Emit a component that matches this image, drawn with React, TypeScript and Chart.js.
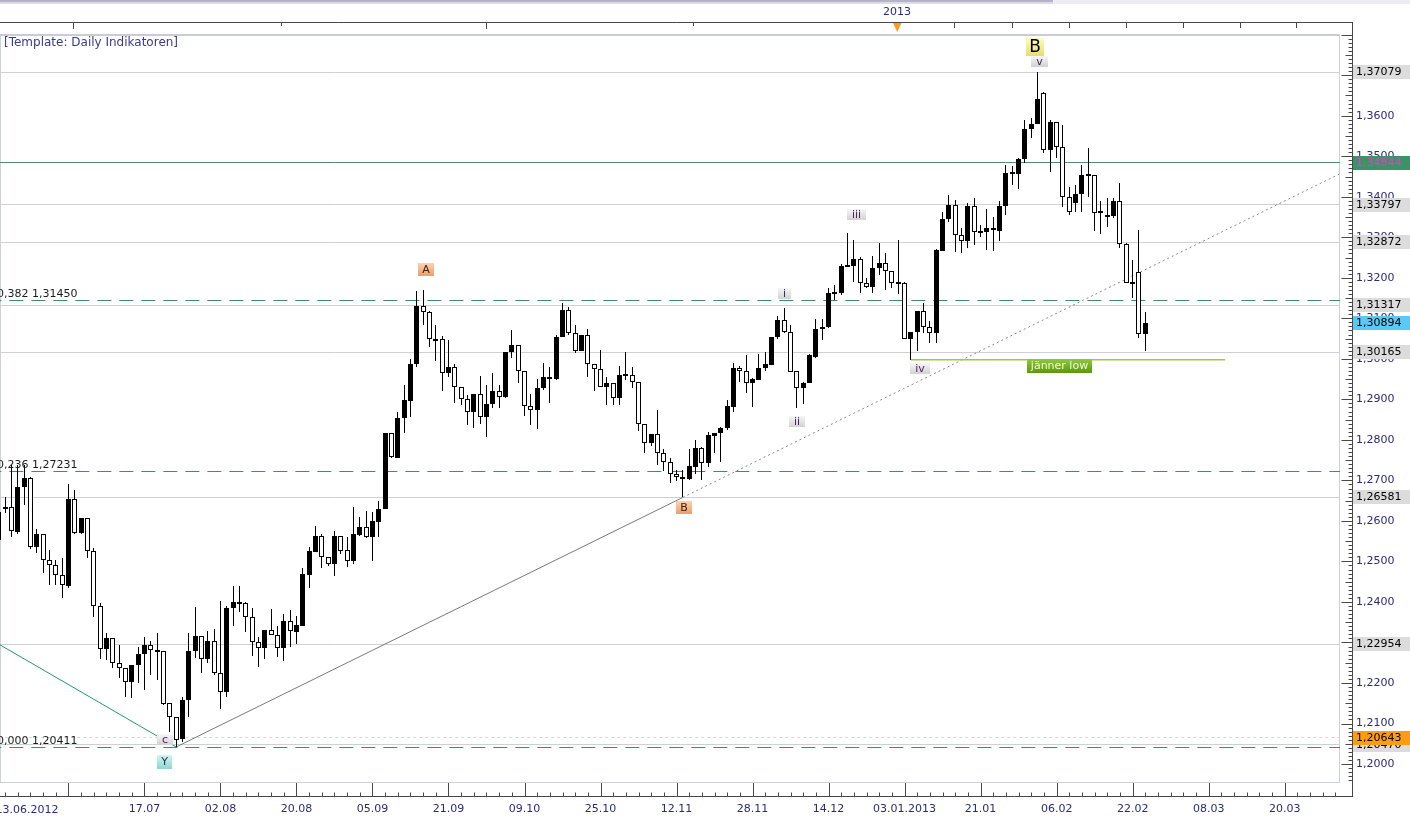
import React, { useEffect, useRef } from 'react';
import { Chart, registerables } from 'chart.js';

Chart.register(...registerables);
Chart.defaults.font.family = '"DejaVu Sans"';

// ---------------- data (EUR/USD daily) ----------------
const OPEN = [
  1.2622, 1.2629, 1.2634, 1.2573, 1.2684, 1.2706, 1.2536, 1.2568, 1.2504, 1.2491,
  1.2467, 1.2440, 1.2654, 1.2571, 1.2607, 1.2526, 1.2390, 1.2284, 1.2311, 1.2249,
  1.2237, 1.2203, 1.2244, 1.2272, 1.2294, 1.2277, 1.2279, 1.2151, 1.2116, 1.2062,
  1.2158, 1.2279, 1.2316, 1.2259, 1.2304, 1.2225, 1.2178, 1.2385, 1.2396, 1.2398,
  1.2363, 1.2301, 1.2286, 1.2331, 1.2318, 1.2286, 1.2353, 1.2326, 1.2341, 1.2467,
  1.2524, 1.2563, 1.2511, 1.2494, 1.2563, 1.2528, 1.2501, 1.2565, 1.2585, 1.2560,
  1.2597, 1.2629, 1.2817, 1.2755, 1.2854, 1.2896, 1.2987, 1.3130, 1.3116, 1.3049,
  1.3049, 1.2965, 1.2980, 1.2931, 1.2901, 1.2869, 1.2913, 1.2856, 1.2889, 1.2921,
  1.2906, 1.3017, 1.3034, 1.2970, 1.2884, 1.2874, 1.2928, 1.2955, 1.2950, 1.3054,
  1.3121, 1.3064, 1.3019, 1.3059, 1.2987, 1.2975, 1.2931, 1.2940, 1.2903, 1.2958,
  1.2960, 1.2943, 1.2839, 1.2792, 1.2814, 1.2767, 1.2745, 1.2715, 1.2708, 1.2703,
  1.2733, 1.2780, 1.2743, 1.2809, 1.2817, 1.2829, 1.2881, 1.2977, 1.2970, 1.2940,
  1.2948, 1.2977, 1.2985, 1.3054, 1.3096, 1.3066, 1.2970, 1.2928, 1.2940, 1.3004,
  1.3074, 1.3079, 1.3160, 1.3163, 1.3226, 1.3229, 1.3246, 1.3187, 1.3177, 1.3224,
  1.3236, 1.3216, 1.3185, 1.3187, 1.3049, 1.3066, 1.3118, 1.3079, 1.3064, 1.3266,
  1.3345, 1.3380, 1.3306, 1.3291, 1.3377, 1.3310, 1.3313, 1.3323, 1.3315, 1.3377,
  1.3456, 1.3456, 1.3493, 1.3567, 1.3579, 1.3656, 1.3515, 1.3585, 1.3523, 1.3399,
  1.3385, 1.3407, 1.3451, 1.3454, 1.3360, 1.3350, 1.3353, 1.3390, 1.3283, 1.3185,
  1.3214, 1.3061,
];
const HIGH = [
  1.2639, 1.2659, 1.2738, 1.2738, 1.2738, 1.2708, 1.2580, 1.2568, 1.2528, 1.2504,
  1.2509, 1.2691, 1.2676, 1.2607, 1.2607, 1.2533, 1.2398, 1.2324, 1.2311, 1.2294,
  1.2237, 1.2244, 1.2289, 1.2314, 1.2304, 1.2324, 1.2279, 1.2151, 1.2116, 1.2166,
  1.2324, 1.2388, 1.2316, 1.2328, 1.2333, 1.2402, 1.2390, 1.2440, 1.2440, 1.2400,
  1.2385, 1.2314, 1.2331, 1.2383, 1.2341, 1.2370, 1.2380, 1.2365, 1.2484, 1.2536,
  1.2587, 1.2568, 1.2511, 1.2575, 1.2563, 1.2560, 1.2634, 1.2610, 1.2624, 1.2622,
  1.2649, 1.2817, 1.2817, 1.2869, 1.2935, 1.2999, 1.3167, 1.3170, 1.3118, 1.3083,
  1.3056, 1.3046, 1.2987, 1.2931, 1.2911, 1.2913, 1.2958, 1.2935, 1.2965, 1.2935,
  1.3017, 1.3071, 1.3034, 1.2970, 1.2913, 1.2950, 1.2989, 1.2980, 1.3059, 1.3138,
  1.3128, 1.3083, 1.3059, 1.3074, 1.2987, 1.3022, 1.2955, 1.2940, 1.2982, 1.3017,
  1.2980, 1.2943, 1.2839, 1.2814, 1.2874, 1.2777, 1.2755, 1.2725, 1.2725, 1.2777,
  1.2799, 1.2782, 1.2819, 1.2817, 1.2832, 1.2898, 1.2989, 1.2982, 1.3009, 1.2953,
  1.3012, 1.3017, 1.3054, 1.3106, 1.3126, 1.3083, 1.2970, 1.2943, 1.3012, 1.3098,
  1.3098, 1.3175, 1.3182, 1.3234, 1.3310, 1.3293, 1.3251, 1.3199, 1.3254, 1.3286,
  1.3261, 1.3216, 1.3293, 1.3189, 1.3066, 1.3118, 1.3138, 1.3093, 1.3271, 1.3362,
  1.3404, 1.3392, 1.3323, 1.3385, 1.3397, 1.3330, 1.3370, 1.3350, 1.3390, 1.3478,
  1.3476, 1.3496, 1.3589, 1.3594, 1.3708, 1.3659, 1.3589, 1.3585, 1.3577, 1.3424,
  1.3429, 1.3478, 1.3520, 1.3454, 1.3390, 1.3397, 1.3397, 1.3434, 1.3286, 1.3244,
  1.3318, 1.3116,
];
const LOW = [
  1.2541, 1.2620, 1.2560, 1.2568, 1.2639, 1.2531, 1.2521, 1.2472, 1.2442, 1.2442,
  1.2410, 1.2435, 1.2568, 1.2568, 1.2509, 1.2363, 1.2259, 1.2256, 1.2237, 1.2212,
  1.2166, 1.2163, 1.2200, 1.2183, 1.2220, 1.2207, 1.2146, 1.2079, 1.2042, 1.2054,
  1.2116, 1.2261, 1.2225, 1.2249, 1.2220, 1.2136, 1.2166, 1.2341, 1.2375, 1.2326,
  1.2267, 1.2240, 1.2259, 1.2318, 1.2264, 1.2254, 1.2289, 1.2296, 1.2341, 1.2435,
  1.2524, 1.2484, 1.2489, 1.2464, 1.2519, 1.2486, 1.2494, 1.2563, 1.2558, 1.2501,
  1.2560, 1.2629, 1.2755, 1.2755, 1.2817, 1.2857, 1.2980, 1.3083, 1.3029, 1.2995,
  1.2921, 1.2955, 1.2891, 1.2886, 1.2837, 1.2829, 1.2839, 1.2807, 1.2879, 1.2879,
  1.2903, 1.3002, 1.2940, 1.2859, 1.2837, 1.2827, 1.2923, 1.2891, 1.2948, 1.3054,
  1.3059, 1.3014, 1.3019, 1.2955, 1.2921, 1.2931, 1.2886, 1.2886, 1.2886, 1.2948,
  1.2928, 1.2822, 1.2767, 1.2785, 1.2738, 1.2724, 1.2693, 1.2698, 1.2658, 1.2700,
  1.2716, 1.2700, 1.2733, 1.2767, 1.2745, 1.2824, 1.2869, 1.2943, 1.2916, 1.2881,
  1.2948, 1.2970, 1.2985, 1.3049, 1.3064, 1.2967, 1.2879, 1.2889, 1.2940, 1.3002,
  1.3046, 1.3076, 1.3145, 1.3158, 1.3226, 1.3190, 1.3163, 1.3175, 1.3163, 1.3207,
  1.3170, 1.3175, 1.3160, 1.3049, 1.2998, 1.3019, 1.3064, 1.3039, 1.3039, 1.3266,
  1.3338, 1.3264, 1.3261, 1.3273, 1.3281, 1.3301, 1.3269, 1.3266, 1.3291, 1.3355,
  1.3429, 1.3419, 1.3483, 1.3545, 1.3579, 1.3508, 1.3461, 1.3496, 1.3375, 1.3355,
  1.3362, 1.3362, 1.3399, 1.3315, 1.3308, 1.3325, 1.3348, 1.3273, 1.3187, 1.3150,
  1.3051, 1.3019,
];
const CLOSE = [
  1.2553, 1.2634, 1.2575, 1.2684, 1.2706, 1.2536, 1.2568, 1.2504, 1.2491, 1.2467,
  1.2442, 1.2654, 1.2571, 1.2607, 1.2526, 1.2390, 1.2284, 1.2311, 1.2249, 1.2237,
  1.2203, 1.2244, 1.2272, 1.2294, 1.2282, 1.2282, 1.2148, 1.2116, 1.2059, 1.2158,
  1.2279, 1.2316, 1.2259, 1.2304, 1.2225, 1.2178, 1.2385, 1.2400, 1.2400, 1.2363,
  1.2301, 1.2286, 1.2331, 1.2318, 1.2286, 1.2353, 1.2328, 1.2343, 1.2469, 1.2526,
  1.2563, 1.2511, 1.2494, 1.2563, 1.2526, 1.2501, 1.2568, 1.2585, 1.2560, 1.2600,
  1.2629, 1.2817, 1.2758, 1.2854, 1.2898, 1.2987, 1.3130, 1.3116, 1.3049, 1.3044,
  1.2965, 1.2980, 1.2931, 1.2901, 1.2869, 1.2913, 1.2856, 1.2889, 1.2921, 1.2906,
  1.3017, 1.3034, 1.2970, 1.2884, 1.2874, 1.2928, 1.2955, 1.2950, 1.3054, 1.3121,
  1.3064, 1.3019, 1.3059, 1.2987, 1.2975, 1.2931, 1.2940, 1.2903, 1.2960, 1.2960,
  1.2943, 1.2839, 1.2792, 1.2814, 1.2767, 1.2745, 1.2715, 1.2708, 1.2703, 1.2735,
  1.2780, 1.2743, 1.2812, 1.2817, 1.2829, 1.2884, 1.2977, 1.2970, 1.2940, 1.2950,
  1.2977, 1.2987, 1.3054, 1.3096, 1.3066, 1.2967, 1.2928, 1.2940, 1.3009, 1.3074,
  1.3079, 1.3163, 1.3163, 1.3229, 1.3229, 1.3246, 1.3187, 1.3177, 1.3224, 1.3237,
  1.3217, 1.3187, 1.3187, 1.3049, 1.3066, 1.3118, 1.3079, 1.3064, 1.3269, 1.3345,
  1.3380, 1.3306, 1.3291, 1.3377, 1.3313, 1.3313, 1.3323, 1.3318, 1.3377, 1.3459,
  1.3459, 1.3493, 1.3567, 1.3580, 1.3641, 1.3515, 1.3585, 1.3523, 1.3399, 1.3362,
  1.3407, 1.3454, 1.3454, 1.3360, 1.3362, 1.3353, 1.3390, 1.3283, 1.3187, 1.3187,
  1.3061, 1.3089,
];

// x axis: index of trading day, labels every 12 sessions
const X_TICK_INDEX = [23, 35, 47, 59, 71, 83, 95, 107, 119, 131, 143, 155, 167, 179, 191, 203];
const X_TICK_LABELS = ['17.07', '02.08', '20.08', '05.09', '21.09', '09.10', '25.10', '12.11', '28.11', '14.12', '03.01.2013', '21.01', '06.02', '22.02', '08.03', '20.03'];
const FIRST_DATE_LABEL = '13.06.2012';
const Y_TICK_VALUES = [1.20, 1.21, 1.22, 1.23, 1.24, 1.25, 1.26, 1.27, 1.28, 1.29, 1.30, 1.31, 1.32, 1.33, 1.34, 1.35, 1.36, 1.37];

// horizontal levels
const GREY_LEVELS = [1.37079, 1.33797, 1.32872, 1.31317, 1.30165, 1.26581, 1.22954, 1.20470];
const GREY_DASHED_LEVEL = 1.20643;
const GREEN_LEVEL = 1.34844;
const FIB_NAMES = ['0,382', '0,236', '0,000'];
const FIB_LEVELS = [1.31450, 1.27231, 1.20411];
const LAST_PRICE = 1.30894;
const JANNER_LOW = 1.2998;
const JANNER_FROM_TO = [144, 193.6];

// price axis tags
const TAG_VALUES = [1.37079, 1.33797, 1.32872, 1.31317, 1.30165, 1.26581, 1.22954, 1.20470, GREEN_LEVEL, LAST_PRICE, 1.20643];
const TAG_KINDS = ['grey', 'grey', 'grey', 'grey', 'grey', 'grey', 'grey', 'grey', 'green', 'blue', 'orange'];

// trend lines (session index, price)
const TREND_IDX = [28, 108];
const TREND_PRICE = [1.2042, 1.2658];
const TREND_EXT_IDX = [108, 212];
const TREND_EXT_PRICE = [1.2658, 1.3459];
const GREEN_LINE_IDX = [0, 28];
const GREEN_LINE_PRICE = [1.2296, 1.2042];

// wave labels
const WAVE_TEXT = ['A', 'B', 'Y', 'c', 'i', 'ii', 'iii', 'iv', 'v', 'B', 'jänner low'];
const WAVE_IDX = [67.5, 108.2, 26.2, 26.2, 124.1, 126.0, 135.5, 145.4, 164.4, 163.6, 167.5];
const WAVE_PRICE = [1.3219, 1.2631, 1.2005, 1.2059, 1.3160, 1.2844, 1.3355, 1.2975, 1.3733, 1.3770, 1.2982];
const WAVE_KIND = ['orange', 'orange', 'teal', 'grey', 'grey', 'grey', 'grey', 'grey', 'grey', 'yellow', 'green'];

// ---------------- geometry of the axes ----------------
const X_MIN = 0.205;
const X_MAX = 211.73;
const Y_MIN = 1.19532;
const Y_MAX = 1.38017;

const F = (s: number) => `${s}px "DejaVu Sans"`;
const fmt = (v: number, d: number) => v.toFixed(d).replace('.', ',');

const TAG_STYLE: Record<string, { bg: string; fg: string }> = {
  grey: { bg: '#dcdcdc', fg: '#000000' },
  green: { bg: '#3a9468', fg: '#ff2fd2' },
  blue: { bg: '#5cc8f4', fg: '#000000' },
  orange: { bg: '#ff9c12', fg: '#000000' },
};
const WAVE_STYLE: Record<string, { c1: string; c2: string; fg: string; size: number; h: number; pad: number }> = {
  orange: { c1: '#fcd2b0', c2: '#eb9e6a', fg: '#3a2414', size: 11, h: 13, pad: 4 },
  teal: { c1: '#d2f4f0', c2: '#8fd6ce', fg: '#13303a', size: 11, h: 14, pad: 4 },
  grey: { c1: '#f6f6f6', c2: '#d2d2d2', fg: '#4a1f5e', size: 11, h: 11, pad: 5 },
  yellow: { c1: '#fdfdc0', c2: '#e6de6a', fg: '#000000', size: 17, h: 18, pad: 3 },
  green: { c1: '#8fc840', c2: '#5a9a08', fg: '#f6f6e4', size: 11, h: 14, pad: 4 },
};

const decorPlugin = {
  id: 'decor',
  beforeDraw(chart: any) {
    const { ctx, chartArea: a, width, height } = chart;
    ctx.save();
    ctx.fillStyle = '#ffffff';
    ctx.fillRect(0, 0, width, height);
    ctx.fillStyle = '#ececf1';
    ctx.fillRect(1053, 0, width - 1053, 4);
    ctx.fillStyle = '#b4b4c6';
    ctx.fillRect(0, 0, 1053, 2);
    ctx.fillStyle = '#dcdce6';
    ctx.fillRect(0, 2, 1053, 2);
    ctx.strokeStyle = '#cdd1dc';
    ctx.lineWidth = 1;
    ctx.strokeRect(a.left + 0.5, a.top + 0.5, a.right - a.left - 1, a.bottom - a.top - 1);
    ctx.fillStyle = '#c8ccd8';
    ctx.fillRect(a.left, a.top, a.right - a.left, 2);
    ctx.restore();
  },
  beforeDatasetsDraw(chart: any) {
    // snap candles and horizontal levels to the pixel grid for crisp rendering
    chart.data.datasets.forEach((ds: any, i: number) => {
      const meta = chart.getDatasetMeta(i);
      if (ds.type === 'bar') {
        meta.data.forEach((el: any) => {
          el.x = Math.floor(el.x) + 0.5;
          el.y = Math.round(el.y);
          el.base = Math.round(el.base);
        });
      } else if (ds.snapY) {
        meta.data.forEach((el: any) => {
          el.y = Math.round(el.y - 0.5) + 0.5;
        });
      }
    });
  },
  afterDraw(chart: any) {
    const { ctx, chartArea: a } = chart;
    const xs = chart.scales.x;
    const ys = chart.scales.y;
    const X = (v: number) => xs.getPixelForValue(v);
    const Y = (v: number) => ys.getPixelForValue(v);
    const axisX = a.right + 12.5;
    const baseY = a.bottom + 13.5;
    ctx.save();

    // fibonacci level captions
    ctx.font = F(11);
    ctx.fillStyle = '#1c1c1c';
    ctx.textAlign = 'left';
    ctx.textBaseline = 'alphabetic';
    FIB_LEVELS.forEach((v, k) => {
      ctx.fillText(`${FIB_NAMES[k]} ${fmt(v, 5)}`, -3, Math.round(Y(v)) - 3);
    });

    // axis lines
    ctx.strokeStyle = '#484848';
    ctx.lineWidth = 1;
    ctx.beginPath();
    ctx.moveTo(0, 22.5);
    ctx.lineTo(axisX, 22.5);
    ctx.moveTo(axisX, 22);
    ctx.lineTo(axisX, baseY + 0.5);
    ctx.moveTo(0, baseY);
    ctx.lineTo(axisX, baseY);
    for (let k = Math.ceil(Y_MIN * 1000); k <= Math.floor(Y_MAX * 1000); k++) {
      const y = Math.round(Y(k / 1000)) + 0.5;
      const len = k % 10 === 0 ? 11 : k % 5 === 0 ? 7 : 4;
      ctx.moveTo(axisX - len, y);
      ctx.lineTo(axisX, y);
    }
    for (let k = -1; X(k) <= a.right; k += 2) {
      const x = Math.round(X(k)) + 0.5;
      const major = (k + 1) % 12 === 0;
      ctx.moveTo(x, major ? a.bottom : baseY - 4);
      ctx.lineTo(x, baseY);
    }
    [73, 486, 897].forEach((x) => { ctx.moveTo(x + 0.5, 22); ctx.lineTo(x + 0.5, 29); });
    [954, 1012, 1069, 1126, 1183, 1240, 1296].forEach((x) => { ctx.moveTo(x + 0.5, 22); ctx.lineTo(x + 0.5, 28); });
    [281, 693].forEach((x) => { ctx.moveTo(x + 0.5, 22); ctx.lineTo(x + 0.5, 26); });
    ctx.stroke();

    // 2013 marker
    ctx.fillStyle = '#2b2b7a';
    ctx.font = F(11);
    ctx.textAlign = 'center';
    ctx.textBaseline = 'middle';
    ctx.fillText('2013', 897, 12);
    ctx.fillStyle = '#f4a021';
    ctx.beginPath();
    ctx.moveTo(893, 23);
    ctx.lineTo(901.5, 23);
    ctx.lineTo(897.2, 32);
    ctx.closePath();
    ctx.fill();

    // first date label (pinned at left)
    ctx.fillStyle = '#2b2b7a';
    ctx.fillText(FIRST_DATE_LABEL, 27, a.bottom + 27);

    // title
    ctx.textAlign = 'left';
    ctx.fillStyle = '#3a3a8c';
    ctx.font = F(12);
    ctx.fillText('[Template: Daily Indikatoren]', 4, 43);

    // price tags on the axis
    ctx.font = F(11);
    TAG_VALUES.forEach((v, k) => {
      const st = TAG_STYLE[TAG_KINDS[k]];
      const y = Math.round(Y(v));
      ctx.fillStyle = st.bg;
      ctx.fillRect(axisX + 0.5, y - 7, chart.width - axisX, 14);
      ctx.fillStyle = st.fg;
      ctx.textAlign = 'left';
      ctx.textBaseline = 'middle';
      ctx.fillText(fmt(v, 5), axisX + 3.5, y + 0.5);
    });

    // wave labels
    WAVE_TEXT.forEach((t, k) => {
      const st = WAVE_STYLE[WAVE_KIND[k]];
      ctx.font = F(st.size);
      const w = Math.round(ctx.measureText(t).width + st.pad * 2);
      const cx = Math.round(X(WAVE_IDX[k]));
      const cy = Math.round(Y(WAVE_PRICE[k]));
      const x0 = cx - Math.round(w / 2);
      const y0 = cy - Math.round(st.h / 2);
      const g = ctx.createLinearGradient(0, y0, 0, y0 + st.h);
      g.addColorStop(0, st.c1);
      g.addColorStop(1, st.c2);
      ctx.fillStyle = g;
      ctx.fillRect(x0, y0, w, st.h);
      ctx.fillStyle = st.fg;
      ctx.textAlign = 'center';
      ctx.textBaseline = 'middle';
      ctx.fillText(t, x0 + w / 2, y0 + st.h / 2 + 0.5);
    });
    ctx.restore();
  },
};

const lineDs = (xsv: number[], ysv: number[], color: string, width: number, dash: number[], order = 5, snapY = false) => ({
  type: 'line' as const,
  data: xsv.map((x, i) => ({ x, y: ysv[i] })),
  borderColor: color,
  borderWidth: width,
  borderDash: dash,
  pointRadius: 0,
  fill: false,
  tension: 0,
  order,
  snapY,
});

export default function App() {
  const ref = useRef<HTMLCanvasElement>(null);

  useEffect(() => {
    const idx = OPEN.map((_, i) => i);
    const wickData = idx.map((i) => ({ x: i, y: [LOW[i], HIGH[i]] }));
    const bodyData = idx.map((i) => ({ x: i, y: [Math.min(OPEN[i], CLOSE[i]), Math.max(OPEN[i], CLOSE[i])] }));
    const bodyFill = idx.map((i) => (CLOSE[i] >= OPEN[i] ? '#000000' : '#ffffff'));
    const span = [X_MIN - 2, X_MAX + 2];

    const datasets: any[] = [
      {
        type: 'bar',
        data: bodyData,
        backgroundColor: bodyFill,
        borderColor: '#000000',
        borderWidth: 1,
        borderSkipped: false,
        barThickness: 5,
        minBarLength: 2,
        grouped: false,
        inflateAmount: 0,
        order: 0,
      },
      {
        type: 'bar',
        data: wickData,
        backgroundColor: '#000000',
        borderWidth: 0,
        barThickness: 1,
        grouped: false,
        inflateAmount: 0,
        order: 1,
      },
      ...GREY_LEVELS.map((v) => lineDs(span, [v, v], '#d0d0d0', 1, [], 5, true)),
      lineDs(span, [GREY_DASHED_LEVEL, GREY_DASHED_LEVEL], '#d4d4d4', 1, [3, 3], 5, true),
      lineDs(span, [GREEN_LEVEL, GREEN_LEVEL], '#4f8c6f', 1, [], 5, true),
      ...FIB_LEVELS.map((v) => lineDs(span, [v, v], '#3f8c6a', 1, [14, 8], 5, true)),
      lineDs(JANNER_FROM_TO, [JANNER_LOW, JANNER_LOW], '#a4c83a', 1.5, [], 4),
      lineDs(GREEN_LINE_IDX, GREEN_LINE_PRICE, '#23996e', 1, [], 4),
      lineDs(TREND_IDX, TREND_PRICE, '#7a7a7a', 1, [], 4),
      lineDs(TREND_EXT_IDX, TREND_EXT_PRICE, '#8a8a8a', 1, [2, 3], 4),
    ];

    const chart = new Chart(ref.current as HTMLCanvasElement, {
      type: 'bar',
      data: { datasets },
      options: {
        animation: false,
        responsive: false,
        devicePixelRatio: 1,
        events: [],
        layout: { padding: { top: 34, left: 0, right: 0, bottom: 0 } },
        plugins: { legend: { display: false }, tooltip: { enabled: false } },
        scales: {
          x: {
            type: 'linear',
            min: X_MIN,
            max: X_MAX,
            offset: false,
            grid: { display: false, drawTicks: false },
            border: { display: false },
            afterBuildTicks: (s: any) => {
              s.ticks = X_TICK_INDEX.map((v) => ({ value: v }));
            },
            afterFit: (s: any) => {
              s.height = 37;
            },
            ticks: {
              autoSkip: false,
              maxRotation: 0,
              minRotation: 0,
              padding: 20,
              color: '#2b2b7a',
              font: { family: '"DejaVu Sans"', size: 11 },
              callback: (v: any) => {
                const k = X_TICK_INDEX.indexOf(Number(v));
                return k >= 0 ? X_TICK_LABELS[k] : '';
              },
            },
          },
          y: {
            type: 'linear',
            position: 'right',
            min: Y_MIN,
            max: Y_MAX,
            grid: { display: false, drawTicks: false },
            border: { display: false },
            afterBuildTicks: (s: any) => {
              s.ticks = Y_TICK_VALUES.map((v) => ({ value: v }));
            },
            afterFit: (s: any) => {
              s.width = 70;
            },
            ticks: {
              padding: 16,
              color: '#2b2b7a',
              font: { family: '"DejaVu Sans"', size: 11 },
              callback: (v: any) => fmt(Number(v), 4),
            },
          },
        },
      } as any,
      plugins: [decorPlugin],
    });
    return () => chart.destroy();
  }, []);

  return (
    <div style={{ position: 'absolute', left: 0, top: 0, width: 1410, height: 820, background: '#ffffff' }}>
      <canvas ref={ref} width={1410} height={820} style={{ display: 'block', width: 1410, height: 820 }} />
    </div>
  );
}
